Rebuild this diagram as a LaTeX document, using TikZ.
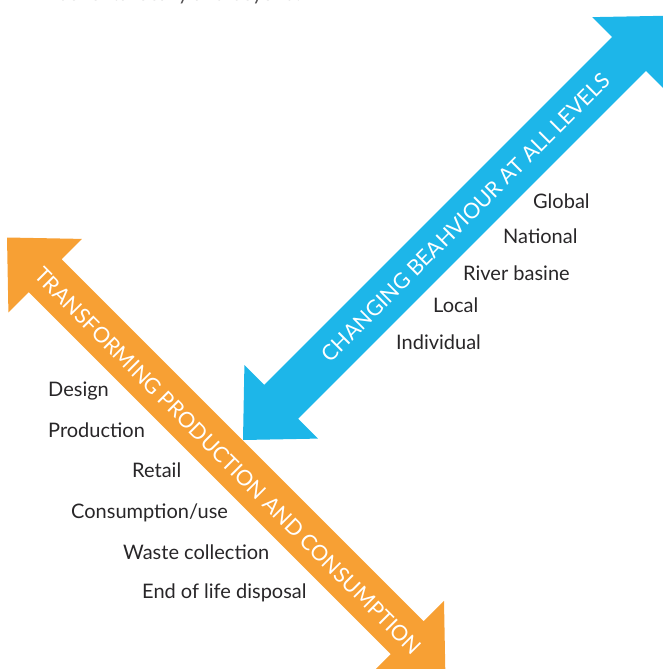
\documentclass[tikz,border=0pt]{standalone}
\usepackage{fontspec}
\setmainfont{Lato}
\definecolor{arrowblue}{RGB}{29,182,233}
\definecolor{arroworange}{RGB}{247,160,52}
\definecolor{labelgray}{RGB}{40,38,40}
\begin{document}
\begin{tikzpicture}[x=1pt,y=-1pt,
  lbl/.style={anchor=base west,inner sep=0pt,text=labelgray,font=\fontsize{20}{23}\selectfont},
  arrowtext/.style={inner sep=0pt,text=white,font=\fontsize{21.5}{24}\selectfont}]
\useasboundingbox (0,0) rectangle (663,669);
\clip (0,0) rectangle (663,669);
% cut-off line of text at the top
\node[lbl,text=labelgray!80] (top) at (57,1) {benefits locally and beyond.};
% orange arrow
\begin{scope}[shift={(7,237.5)},rotate=-45]
  \fill[arroworange] (0,0) -- (54,52) -- (54,23.3) -- (566,23.3) -- (566,52) -- (620,0)
    -- (566,-52) -- (566,-23.3) -- (54,-23.3) -- (54,-52) -- cycle;
\end{scope}
\node[arrowtext,rotate=-45] (tpc) at (228,461) {TRANSFORMING PRODUCTION AND CONSUMPTION};
% blue arrow
\begin{scope}[shift={(243,440)},rotate=45]
  \fill[arrowblue] (0,0) -- (54,52) -- (54,24) -- (546,24) -- (546,52) -- (600,0)
    -- (546,-52) -- (546,-24) -- (54,-24) -- (54,-52) -- cycle;
\end{scope}
\node[arrowtext,rotate=45] (cb) at (465.5,217.5) {CHANGING BEAHVIOUR AT ALL LEVELS};
% levels
\node[lbl] (global) at (533,208) {Global};
\node[lbl] (national) at (503,243) {National};
\node[lbl] (river) at (463,280) {River basine};
\node[lbl] (local) at (433,312) {Local};
\node[lbl] (indiv) at (396,349) {Individual};
% stages
\node[lbl] (design) at (48,396) {Design};
\node[lbl] (prod) at (48,437) {Production};
\node[lbl] (retail) at (132,477) {Retail};
\node[lbl] (cons) at (71,518) {Consumption/use};
\node[lbl] (waste) at (123,559) {Waste collection};
\node[lbl] (eol) at (142,598) {End of life disposal};
\end{tikzpicture}
\end{document}
